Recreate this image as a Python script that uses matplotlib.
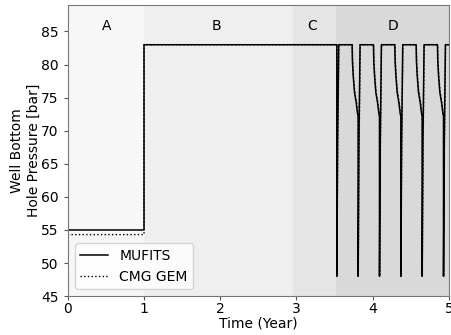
import matplotlib
matplotlib.use("Agg")
import matplotlib.pyplot as plt
import numpy as np

# Phase regions (years) and labels
region_edges = [0.0, 1.0, 2.95, 3.52, 5.0]
region_labels = ["A", "B", "C", "D"]
region_label_x = [0.51, 1.95, 3.21, 4.27]
region_colors = ["#f7f7f7", "#efefef", "#e5e5e5", "#d9d9d9"]

# Initial plateaus (bar)
mufits_initial = 55.0
cmg_initial = 54.3
injection_level = 83.0
step_time = 1.0

# Cycling phase: times of the pressure drops (years)
drop_times = [3.53, 3.81, 4.09, 4.37, 4.65, 4.93]
# Recovery after each drop (offset after drop, pressure)
recovery_offsets = [0.0, 0.010, 0.025]
recovery_mufits = [48.0, 68.0, 83.0]
recovery_cmg = [48.0, 67.0, 83.0]
# Decline before each drop (offset before drop, pressure)
decline_offsets = [-0.079, -0.075, -0.065, -0.048, -0.025, -0.008, 0.0]
decline_mufits = [83.0, 80.5, 78.3, 75.8, 74.2, 72.6, 72.2]
decline_cmg = [83.0, 80.8, 78.6, 76.0, 74.4, 72.8, 72.0]


def build(initial, rec_vals, dec_vals, shift=0.0):
    t = [0.0, step_time, step_time]
    p = [initial, initial, injection_level]
    for i, td in enumerate(drop_times):
        td = td + shift
        if i > 0:
            for off, v in zip(decline_offsets, dec_vals):
                t.append(td + off)
                p.append(v)
        else:
            t.append(td)
            p.append(injection_level)
        for off, v in zip(recovery_offsets, rec_vals):
            t.append(td + off)
            p.append(v)
    t.append(5.0)
    p.append(injection_level)
    return np.array(t), np.array(p)


t_m, p_m = build(mufits_initial, recovery_mufits, decline_mufits)
t_c, p_c = build(cmg_initial, recovery_cmg, decline_cmg, shift=0.002)

fig = plt.figure(figsize=(4.52, 3.35), dpi=100)
ax = fig.add_axes([0.150, 0.116, 0.843, 0.869])

for (x0, x1), lab, lx, col in zip(zip(region_edges[:-1], region_edges[1:]),
                                  region_labels, region_label_x, region_colors):
    ax.axvspan(x0, x1, color=col, zorder=0, lw=0)
    ax.text(lx, 85.9, lab, ha="center", va="center", fontsize=10)

ax.plot(t_m, p_m, color="black", lw=1.1, label="MUFITS")
ax.plot(t_c, p_c, color="black", lw=1.0, ls=":", label="CMG GEM")

ax.set_xlim(0, 5)
ax.set_ylim(45, 89)
ax.set_xticks([0, 1, 2, 3, 4, 5])
ax.set_yticks([45, 50, 55, 60, 65, 70, 75, 80, 85])
ax.tick_params(labelsize=10, length=3, color="#555555")
ax.tick_params(axis="x", pad=1.5)
for s in ax.spines.values():
    s.set_color("#777777")
ax.set_xlabel("Time (Year)", fontsize=10, labelpad=0)
ax.set_ylabel("Well Bottom\nHole Pressure [bar]", fontsize=10, labelpad=0.5)
ax.legend(loc="lower left", fontsize=10, handlelength=2.0, borderaxespad=0.5)

fig.savefig("out.png", dpi=100)
